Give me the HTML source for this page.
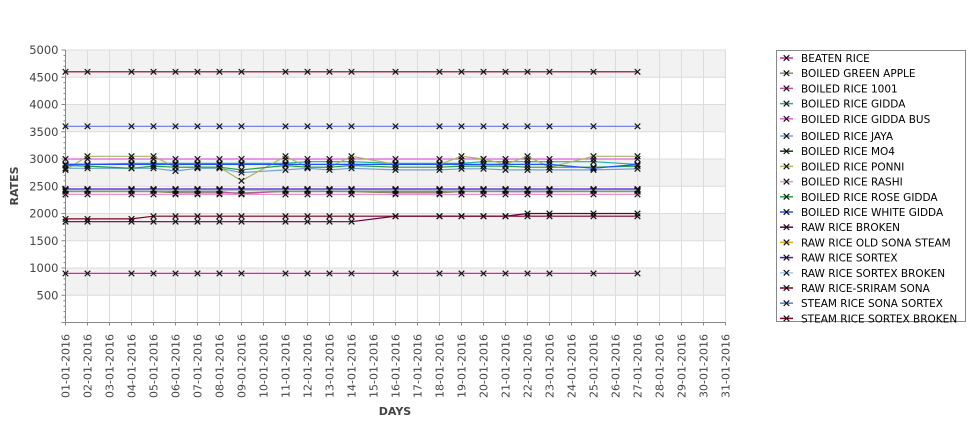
<!DOCTYPE html>
<html><head><meta charset="utf-8"><style>
html,body{margin:0;padding:0;background:#fff;}
svg{display:block;font-family:"DejaVu Sans","Liberation Sans",sans-serif;}
</style></head><body>
<svg id="chart" width="975" height="429" viewBox="0 0 975 429">
<g id="bands"></g>
<g id="grid"></g>
<g id="axes"></g>
<g id="series"></g>
<g id="legend"></g>
<text x="395" y="415" font-size="11" font-weight="bold" fill="#444" text-anchor="middle">DAYS</text>
<text transform="translate(18,186) rotate(-90)" font-size="11" font-weight="bold" fill="#444" text-anchor="middle">RATES</text>
</svg>
<script>
const categories = ["01-01-2016","02-01-2016","03-01-2016","04-01-2016","05-01-2016","06-01-2016","07-01-2016","08-01-2016","09-01-2016","10-01-2016","11-01-2016","12-01-2016","13-01-2016","14-01-2016","15-01-2016","16-01-2016","17-01-2016","18-01-2016","19-01-2016","20-01-2016","21-01-2016","22-01-2016","23-01-2016","24-01-2016","25-01-2016","26-01-2016","27-01-2016","28-01-2016","29-01-2016","30-01-2016","31-01-2016"];
const yTicks = [500,1000,1500,2000,2500,3000,3500,4000,4500,5000];
const dataDays = [0,1,3,4,5,6,7,8,10,11,12,13,15,17,18,19,20,21,22,24,26];
const seriesNames = ["BEATEN RICE","BOILED GREEN APPLE","BOILED RICE 1001","BOILED RICE GIDDA","BOILED RICE GIDDA BUS","BOILED RICE JAYA","BOILED RICE MO4","BOILED RICE PONNI","BOILED RICE RASHI","BOILED RICE ROSE GIDDA","BOILED RICE WHITE GIDDA","RAW RICE BROKEN","RAW RICE OLD SONA STEAM","RAW RICE SORTEX","RAW RICE SORTEX BROKEN","RAW RICE-SRIRAM SONA","STEAM RICE SONA SORTEX","STEAM RICE SORTEX BROKEN"];
const seriesColors = ["#e020b0","#888860","#c050a0","#20b0a0","#e060e0","#70a0d8","#104010","#a8b860","#e890d0","#20a040","#2050ff","#660044","#d8a820","#5010d0","#a0d0f0","#800020","#6677dd","#800020"];
const sBeaten   = [900,900,900,900,900,900,900,900,900,900,900,900,900,900,900,900,900,900,900,900,900];
const sGreen    = [2400,2400,2400,2400,2380,2380,2380,2380,2400,2400,2400,2400,2380,2380,2400,2400,2400,2400,2400,2400,2400];
const s1001     = [2420,2420,2420,2420,2400,2400,2400,2360,2420,2420,2400,2420,2400,2400,2420,2420,2400,2400,2400,2420,2420];
const sGidda    = [2900,2900,2920,2920,2920,2920,2920,2920,2920,2950,2950,2950,2920,2920,2920,2950,2950,2950,2950,2950,2900];
const sGiddaBus = [3000,3000,3000,3000,3000,3000,3000,3000,3000,3000,3000,3000,3000,3000,3000,3000,3000,3000,3000,3000,3000];
const sJaya     = [2830,2830,2830,2830,2780,2830,2830,2750,2800,2830,2800,2830,2800,2800,2820,2820,2800,2800,2800,2800,2820];
const sMo4      = [2440,2440,2440,2440,2440,2440,2440,2440,2440,2440,2440,2440,2440,2440,2440,2440,2440,2440,2440,2440,2440];
const sPonni    = [2800,3050,3050,3050,2850,2850,2850,2600,3050,2850,2850,3050,2900,2900,3050,3000,2900,3050,2850,3050,3050];
const sRashi    = [2350,2350,2350,2350,2350,2350,2350,2350,2350,2350,2350,2350,2350,2350,2350,2350,2350,2350,2350,2350,2350];
const sRose     = [2880,2870,2830,2870,2850,2850,2850,2800,2880,2850,2850,2880,2850,2850,2870,2870,2870,2850,2850,2850,2870];
const sWhite    = [2900,2900,2900,2900,2900,2900,2900,2900,2900,2900,2900,2900,2900,2900,2900,2900,2900,2900,2900,2830,2900];
const sBroken   = [1850,1850,1850,1850,1850,1850,1850,1850,1850,1850,1850,1850,1950,1950,1950,1950,1950,2000,2000,2000,2000];
const sOldSona  = [2420,2420,2420,2420,2420,2420,2420,2420,2420,2420,2420,2420,2420,2420,2420,2420,2420,2420,2420,2420,2420];
const sSortex   = [2450,2450,2450,2450,2450,2450,2450,2450,2450,2450,2450,2450,2450,2450,2450,2450,2450,2450,2450,2450,2450];
const sSortexBr = [2430,2430,2430,2430,2430,2430,2430,2430,2430,2430,2430,2430,2430,2430,2430,2430,2430,2430,2430,2430,2430];
const sSriram   = [1900,1900,1900,1950,1950,1950,1950,1950,1950,1950,1950,1950,1950,1950,1950,1950,1950,1950,1950,1950,1950];
const sSteamSona= [3600,3600,3600,3600,3600,3600,3600,3600,3600,3600,3600,3600,3600,3600,3600,3600,3600,3600,3600,3600,3600];
const sSteamBr  = [4600,4600,4600,4600,4600,4600,4600,4600,4600,4600,4600,4600,4600,4600,4600,4600,4600,4600,4600,4600,4600];
const seriesValues = [sBeaten,sGreen,s1001,sGidda,sGiddaBus,sJaya,sMo4,sPonni,sRashi,sRose,sWhite,sBroken,sOldSona,sSortex,sSortexBr,sSriram,sSteamSona,sSteamBr];

const NS="http://www.w3.org/2000/svg";
const X0=65.5, X1=725.5, Y0=322.5, YTOP=50;
const yMax=5000;
function xs(i){return X0+(X1-X0)*i/(categories.length-1);}
function ys(v){return Y0-(Y0-YTOP)*v/yMax;}
function mk(tag,attrs,parent){const e=document.createElementNS(NS,tag);for(const k in attrs)e.setAttribute(k,attrs[k]);parent.appendChild(e);return e;}

const bands=document.getElementById('bands');
for(let v=0;v<yMax;v+=500){
  const r=mk('rect',{x:X0,y:ys(v+500),width:X1-X0,height:ys(v)-ys(v+500),fill:(v/500)%2===1?'#f2f2f2':'#ffffff'},bands);
  
  
}
const grid=document.getElementById('grid');
categories.forEach((c,i)=>{
  const l=mk('line',{x1:xs(i),x2:xs(i),y1:YTOP,y2:Y0,stroke:'#dcdcdc','stroke-width':1},grid);
  
  
});
yTicks.forEach(v=>{
  const l=mk('line',{x1:X0,x2:X1,y1:ys(v),y2:ys(v),stroke:'#dcdcdc','stroke-width':1},grid);
  
  
});
const axes=document.getElementById('axes');
mk('line',{x1:X0,x2:X0,y1:YTOP,y2:Y0,stroke:'#888'},axes);
mk('line',{x1:X0-4,x2:X1,y1:Y0,y2:Y0,stroke:'#888'},axes);
for(let v=100;v<=yMax;v+=100){
  mk('line',{x1:X0-(v%500===0?4:2),x2:X0,y1:ys(v),y2:ys(v),stroke:'#888'},axes);
}
yTicks.forEach(v=>{
  const t=mk('text',{x:X0-7,y:ys(v)+4,'font-size':11.5,fill:'#444','text-anchor':'end'},axes);
  t.textContent=v;
  
  
});
categories.forEach((c,i)=>{
  mk('line',{x1:xs(i),x2:xs(i),y1:Y0,y2:Y0+3,stroke:'#888'},axes);
  const t=mk('text',{transform:`translate(${xs(i)+4},334) rotate(-90)`,'font-size':11,fill:'#444','text-anchor':'end'},axes);
  t.textContent=c;
  
  
});
const sg=document.getElementById('series');
function cross(g,x,y,col){
  mk('path',{d:`M${x-2.8},${y-2.8}L${x+2.8},${y+2.8}M${x-2.8},${y+2.8}L${x+2.8},${y-2.8}`,stroke:col,'stroke-width':1.2,fill:'none'},g);
}
seriesValues.forEach((vals,si)=>{
  const g=mk('g',{},sg);
  
  
  const pts=vals.map((v,k)=>xs(dataDays[k]).toFixed(1)+','+ys(v).toFixed(1)).join(' ');
  mk('polyline',{points:pts,fill:'none',stroke:seriesColors[si],'stroke-width':1.2},g);
  vals.forEach((v,k)=>cross(g,xs(dataDays[k]),ys(v),'#111'));
});
const lg=document.getElementById('legend');
mk('rect',{x:776.5,y:50.5,width:189,height:271,fill:'#fff',stroke:'#888'},lg);
seriesNames.forEach((n,i)=>{
  const y=58+i*15.2+(i>=5?2:0);
  const g=mk('g',{},lg);
  
  
  mk('line',{x1:780,x2:793,y1:y,y2:y,stroke:seriesColors[i],'stroke-width':1.5},g);
  cross(g,786.5,y,'#111');
  const t=mk('text',{x:801,y:y+4,'font-size':10.5,fill:'#000'},g);
  t.textContent=n;
});
</script>
</body></html>
